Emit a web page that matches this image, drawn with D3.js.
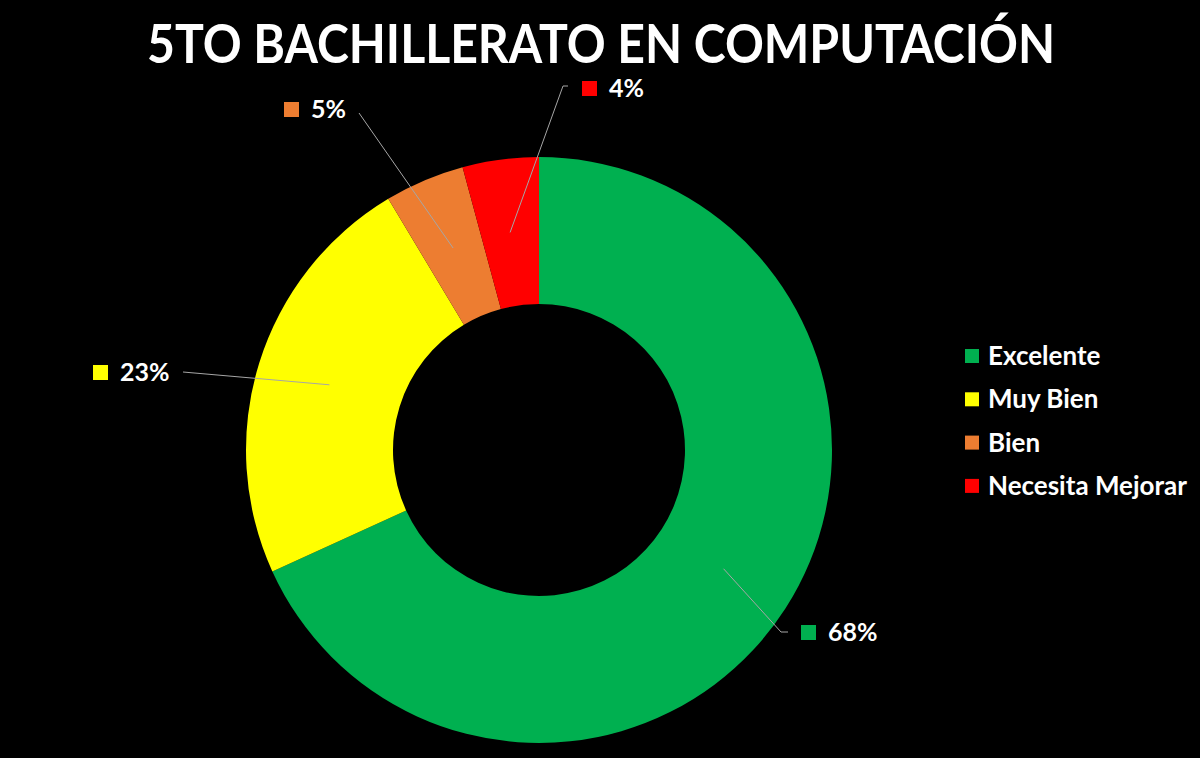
<!DOCTYPE html>
<html><head><meta charset="utf-8">
<script src="https://cdn.jsdelivr.net/npm/d3@7"></script>
<style>html,body{margin:0;padding:0;background:#000;}svg{display:block;}</style>
</head><body>
<svg id="chart" width="1200" height="758"></svg>
<script>
const categories = ["Excelente", "Muy Bien", "Bien", "Necesita Mejorar"];
const values = [68.2, 23.2, 4.4, 4.2];
const colors = ["#00B050", "#FFFF00", "#ED7D31", "#FF0000"];
const labelTexts = ["68%", "23%", "5%", "4%"];
const title = "5TO BACHILLERATO EN COMPUTACIÓN";

// layout (label anchor = end of leader line, relative to donut centre)
const labelLayout = [
  {end: [242, 182], elbow: 7, sq: [262, 175]},
  {end: [-356, -78], elbow: 0, sq: [-446, -85]},
  {end: [-180, -337], elbow: 0, sq: [-255, -348]},
  {end: [24, -364], elbow: 5, sq: [43, -369]}
];

const svg = d3.select("#chart");
const W = 1200, H = 758;
svg.append("rect").attr("width", W).attr("height", H).attr("fill", "#000");
const font = "Lato, 'Open Sans', sans-serif";

svg.append("text").attr("x", 601).attr("y", 63).attr("text-anchor", "middle")
  .attr("fill", "#fff").attr("font-family", font).attr("font-weight", 700)
  .attr("font-size", 53).attr("textLength", 908).attr("lengthAdjust", "spacingAndGlyphs")
  .text(title);

const cx = 539, cy = 450, R = 293, r0 = 146;
const g = svg.append("g").attr("transform", `translate(${cx},${cy})`);
const pie = d3.pie().sort(null).value(d => d)(values);
const arc = d3.arc().innerRadius(r0).outerRadius(R);
g.selectAll("path").data(pie).join("path").attr("d", arc).attr("fill", (d, i) => colors[i]);

pie.forEach((d, i) => {
  const c = arc.centroid(d);
  const L = labelLayout[i];
  const pts = [c, L.end];
  if (L.elbow) pts.push([L.end[0] + L.elbow, L.end[1]]);
  g.append("path").attr("d", d3.line()(pts)).attr("fill", "none")
    .attr("stroke", "#a6a6a6").attr("stroke-width", 1);
  g.append("rect").attr("x", L.sq[0]).attr("y", L.sq[1]).attr("width", 15).attr("height", 15)
    .attr("fill", colors[i]);
  g.append("text").attr("x", L.sq[0] + 27).attr("y", L.sq[1] + 16)
    .attr("fill", "#fff").attr("font-family", font).attr("font-weight", 700)
    .attr("font-size", 25).text(labelTexts[i]);
});

const leg = svg.append("g").attr("transform", "translate(965,356)");
categories.forEach((c, i) => {
  const row = leg.append("g").attr("transform", `translate(0,${i * 43.3})`);
  row.append("rect").attr("x", 0).attr("y", -7).attr("width", 14).attr("height", 14).attr("fill", colors[i]);
  row.append("text").attr("x", 23).attr("y", 9).attr("fill", "#fff").attr("font-family", font)
    .attr("font-weight", 700).attr("font-size", 26).text(c);
});
</script>
</body></html>
